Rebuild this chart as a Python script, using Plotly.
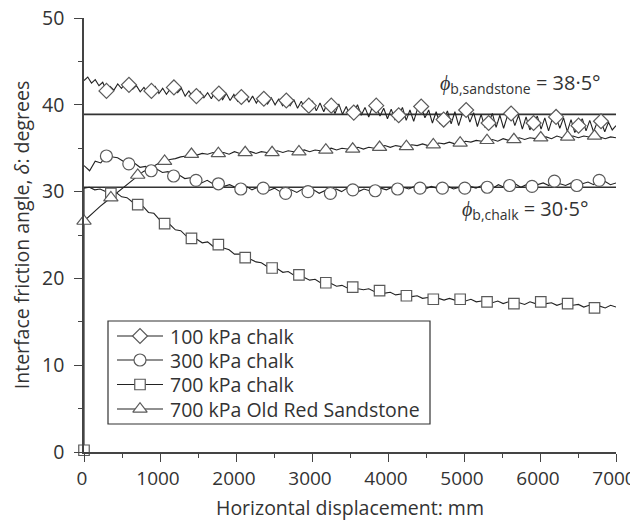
import numpy as np
import plotly.graph_objects as go

# ---------------- data ----------------
# Horizontal displacement grids (mm)
X_100 = np.linspace(0, 7000, 143)   # 100 kPa chalk samples
X_300 = np.linspace(0, 7000, 96)    # 300 kPa chalk samples
X_700 = np.linspace(0, 7000, 100)   # 700 kPa chalk / Old Red Sandstone samples

# Interface friction angle (degrees)
Y_100_CHALK = [
    42.8, 43.2, 42.5, 42.9, 42.2, 42.6, 41.6,
    42.1, 41.7, 42.4, 41.9, 42.5, 42.3,
    41.8, 42.2, 41.5, 42.0, 41.4, 41.6,
    42.1, 41.3, 41.9, 41.2, 41.8, 42.0,
    41.4, 41.9, 41.0, 41.6, 40.9, 41.0,
    41.5, 40.8, 41.4, 40.7, 41.6, 41.3,
    40.6, 41.3, 40.5, 41.2, 40.4, 40.9,
    41.2, 40.3, 41.0, 40.2, 40.9, 40.7,
    40.1, 40.8, 40.0, 40.7, 39.9, 40.5,
    39.9, 40.6, 39.6, 40.4, 39.5, 39.9,
    40.4, 39.3, 40.2, 39.2, 40.3, 39.9,
    39.0, 40.1, 38.9, 39.8, 38.7, 39.1,
    40.0, 38.8, 39.7, 38.6, 39.8, 39.9,
    38.7, 39.6, 38.4, 39.5, 38.3, 38.8,
    39.7, 38.2, 39.4, 38.1, 39.5, 39.8,
    38.5, 39.4, 37.9, 39.2, 37.8, 38.3,
    39.3, 37.8, 39.2, 37.6, 39.0, 39.4,
    38.0, 39.1, 37.5, 38.9, 37.4, 37.9,
    39.0, 37.4, 38.8, 37.3, 38.7, 39.0,
    37.6, 38.8, 37.2, 38.6, 37.1, 37.9,
    38.7, 37.2, 38.5, 37.0, 38.4, 38.6,
    37.3, 38.5, 36.9, 38.3, 36.8, 37.6,
    38.4, 37.0, 38.2, 36.9, 38.0, 38.1,
    36.9, 38.0, 37.1, 37.6,
]

Y_300_CHALK = [
    33.0, 32.4, 33.5, 33.3, 34.1,
    34.0, 33.9, 33.5, 33.2,
    33.3, 32.8, 32.9, 32.4,
    32.6, 32.2, 32.3, 31.8,
    31.9, 31.5, 31.6, 31.3,
    31.0, 31.3, 30.9, 30.9,
    30.6, 30.8, 30.5, 30.3,
    30.6, 30.2, 30.5, 30.4,
    30.1, 30.4, 30.0, 29.8,
    30.2, 29.9, 30.3, 30.0,
    30.2, 29.8, 30.1, 29.8,
    30.3, 30.0, 30.4, 30.2,
    30.0, 30.3, 30.1, 30.1,
    30.4, 30.2, 30.5, 30.3,
    30.5, 30.3, 30.6, 30.4,
    30.3, 30.6, 30.4, 30.4,
    30.6, 30.3, 30.5, 30.4,
    30.6, 30.4, 30.7, 30.5,
    30.4, 30.8, 30.5, 30.7,
    30.9, 30.5, 30.8, 30.6,
    30.8, 31.0, 30.7, 31.2,
    30.9, 30.7, 31.0, 30.7,
    30.9, 31.1, 30.8, 31.3,
    31.2, 30.8, 31.0,
]

Y_700_CHALK_START = 0.2   # value plotted at the origin before the jump
Y_700_CHALK = [
    30.4, 30.5, 30.2, 30.3, 30.0, 29.8, 29.9, 29.4, 29.3, 28.8,
    28.5, 28.3, 27.6, 27.5, 26.8, 26.3, 26.2, 25.6, 25.5, 24.9,
    24.6, 24.5, 24.1, 24.2, 23.7, 23.9, 23.5, 23.3, 22.8, 22.8,
    22.4, 22.2, 21.9, 21.8, 21.4, 21.2, 21.1, 20.7, 20.8, 20.4,
    20.4, 20.1, 19.8, 19.9, 19.5, 19.5, 19.4, 19.1, 19.2, 18.9,
    19.0, 18.8, 18.7, 18.8, 18.5, 18.6, 18.3, 18.4, 18.1, 18.2,
    18.0, 17.9, 18.0, 17.7, 17.8, 17.6, 17.7, 17.5, 17.7, 17.5,
    17.6, 17.4, 17.6, 17.3, 17.4, 17.3, 17.2, 17.4, 17.1, 17.3,
    17.1, 17.2, 17.0, 17.3, 17.1, 17.3, 17.1, 17.2, 16.9, 17.1,
    17.1, 16.9, 17.0, 16.7, 16.9, 16.6, 16.8, 16.6, 16.9, 16.7,
]

Y_700_ORS = [
    26.6, 27.2, 27.7, 28.3, 28.8, 29.3, 29.8, 30.3, 30.9, 31.4,
    31.9, 32.3, 32.6, 33.0, 33.3, 33.5, 33.7, 33.8, 34.0, 34.1,
    34.3, 34.2, 34.4, 34.3, 34.5, 34.4, 34.5, 34.3, 34.6, 34.4,
    34.5, 34.6, 34.4, 34.6, 34.5, 34.5, 34.7, 34.5, 34.7, 34.6,
    34.6, 34.8, 34.6, 34.8, 34.7, 34.8, 35.0, 34.8, 35.0, 34.9,
    34.9, 35.1, 34.9, 35.1, 35.0, 35.1, 35.3, 35.1, 35.3, 35.2,
    35.2, 35.4, 35.3, 35.5, 35.3, 35.4, 35.6, 35.5, 35.7, 35.5,
    35.6, 35.8, 35.7, 35.9, 35.8, 35.9, 36.0, 35.8, 36.1, 35.9,
    36.0, 36.2, 36.0, 36.2, 36.1, 36.2, 36.3, 36.1, 36.4, 36.2,
    36.3, 36.4, 36.2, 36.4, 36.3, 36.4, 36.3, 36.1, 36.3, 36.2,
]

# Basic friction angle reference lines
REF_X = [0, 7000]
PHI_SANDSTONE_LINE = 38.9
PHI_CHALK_LINE = 30.5

SERIES_NAMES = ["100 kPa chalk", "300 kPa chalk", "700 kPa chalk",
                "700 kPa Old Red Sandstone"]

X_TICKS = [0, 1000, 2000, 3000, 4000, 5000, 6000, 7000]
Y_TICKS = [0, 10, 20, 30, 40, 50]

# ---------------- assemble ----------------
x100 = list(X_100)
x300 = list(X_300)
x700c = [0.0] + list(X_700)
y700c = [Y_700_CHALK_START] + Y_700_CHALK
x700s = list(X_700)

# marker sampling (every n-th data point)
m100 = list(range(6, len(x100), 6))
m300 = list(range(4, len(x300), 4))
m700c = [0] + [1 + i for i in range(5, len(X_700), 5)]
m700s = list(range(0, len(x700s), 5))

LINE_COL = "#222222"
MK_LINE = "#5a5a5a"
FONT = "Open Sans"
TXT = "#333333"
FS = 19.5

series = [
    (SERIES_NAMES[0], x100, Y_100_CHALK, m100, "diamond", 11.5),
    (SERIES_NAMES[1], x300, Y_300_CHALK, m300, "circle", 12),
    (SERIES_NAMES[2], x700c, y700c, m700c, "square", 10.5),
    (SERIES_NAMES[3], x700s, Y_700_ORS, m700s, "triangle-up", 12.5),
]

# figure / plot-area geometry (px); the page places the figure 8 px in from the corner
FIG_W, FIG_H = 630, 514
L, R, T, B = 76, 22, 10, 70
PW, PH = FIG_W - L - R, FIG_H - T - B

fig = go.Figure()

# reference lines
for yv in (PHI_SANDSTONE_LINE, PHI_CHALK_LINE):
    fig.add_trace(go.Scatter(x=REF_X, y=[yv, yv], mode="lines",
                             line=dict(color="#333333", width=1.6),
                             showlegend=False, hoverinfo="skip"))

# noisy lines
for name, xs, ys, mi, sym, sz in series:
    fig.add_trace(go.Scatter(x=xs, y=ys, mode="lines",
                             line=dict(color=LINE_COL, width=1.1),
                             showlegend=False))

# markers on top
for name, xs, ys, mi, sym, sz in series:
    fig.add_trace(go.Scatter(x=[xs[i] for i in mi], y=[ys[i] for i in mi],
                             mode="markers", cliponaxis=False,
                             marker=dict(symbol=sym, size=sz, color="white",
                                         line=dict(color=MK_LINE, width=1.2)),
                             showlegend=False))

# ---------------- legend (drawn in a pixel-scaled overlay axis) ----------------
LEG_BOX = (24, 346, 28, 131)          # x0, x1, y0, y1 in plot px (from bottom-left)
LEG_ROWS = [116, 92, 67.5, 43]        # row centres (px from plot bottom)
LEG_LINE = (33, 79)
LEG_MK = 56
LEG_TEXT_X = 84

fig.add_shape(type="rect", xref="x2", yref="y2",
              x0=LEG_BOX[0], x1=LEG_BOX[1], y0=LEG_BOX[2], y1=LEG_BOX[3],
              line=dict(color="#333333", width=1.2), fillcolor="white", layer="below")
for (name, xs, ys, mi, sym, sz), ry in zip(series, LEG_ROWS):
    fig.add_trace(go.Scatter(x=list(LEG_LINE), y=[ry, ry], xaxis="x2", yaxis="y2",
                             mode="lines", line=dict(color=LINE_COL, width=1.1),
                             showlegend=False, hoverinfo="skip"))
    fig.add_trace(go.Scatter(x=[LEG_MK], y=[ry], xaxis="x2", yaxis="y2",
                             mode="markers", cliponaxis=False,
                             marker=dict(symbol=sym, size=sz, color="white",
                                         line=dict(color=MK_LINE, width=1.2)),
                             showlegend=False, hoverinfo="skip"))
    fig.add_annotation(x=LEG_TEXT_X, y=ry, xref="x2", yref="y2", xanchor="left",
                       yanchor="middle", text=name, showarrow=False,
                       font=dict(family=FONT, size=FS, color=TXT))

fig.add_annotation(x=6835, y=42.4, xref="x", yref="y", xanchor="right", yanchor="middle",
                   text="<i>ϕ</i><sub>b,sandstone</sub> = 38·5°", showarrow=False,
                   font=dict(family=FONT, size=20, color=TXT))
fig.add_annotation(x=6660, y=27.9, xref="x", yref="y", xanchor="right", yanchor="middle",
                   text="<i>ϕ</i><sub>b,chalk</sub> = 30·5°", showarrow=False,
                   font=dict(family=FONT, size=20, color=TXT))

# x-axis title placed below the tick labels
fig.add_annotation(x=0.5, y=-0.129, xref="paper", yref="paper", xanchor="center",
                   yanchor="middle", text="Horizontal displacement: mm", showarrow=False,
                   font=dict(family=FONT, size=FS, color=TXT))

axis_common = dict(showgrid=False, zeroline=False, showline=True, linecolor="#444444",
                   linewidth=1.5, ticks="outside", ticklen=8, tickwidth=1.3,
                   tickcolor="#444444", mirror=False, automargin=False,
                   ticklabeloverflow="allow")

fig.update_layout(
    width=FIG_W, height=FIG_H,
    margin=dict(l=L, r=R, t=T, b=B),
    paper_bgcolor="white", plot_bgcolor="white",
    font=dict(family=FONT, size=FS, color=TXT),
    showlegend=False,
    xaxis=dict(range=[0, 7000], tickvals=X_TICKS, ticklabelstandoff=0, ticklabelshift=-2,
               tickfont=dict(family=FONT, size=19, color=TXT),
               minor=dict(dtick=500, ticks="outside", ticklen=4, tickcolor="#444444", tickwidth=1.2),
               **axis_common),
    yaxis=dict(range=[0, 50], tickvals=Y_TICKS, ticklabelstandoff=6,
               tickfont=dict(family=FONT, size=FS, color=TXT),
               minor=dict(dtick=5, ticks="outside", ticklen=4, tickcolor="#444444", tickwidth=1.2),
               title=dict(text="Interface friction angle, <i>δ</i>: degrees", standoff=10,
                          font=dict(family=FONT, size=FS, color=TXT)),
               **axis_common),
    xaxis2=dict(overlaying="x", anchor="y2", range=[0, PW], visible=False, fixedrange=True),
    yaxis2=dict(overlaying="y", anchor="x2", range=[0, PH], visible=False, fixedrange=True),
)

fig.write_html("out.html")
